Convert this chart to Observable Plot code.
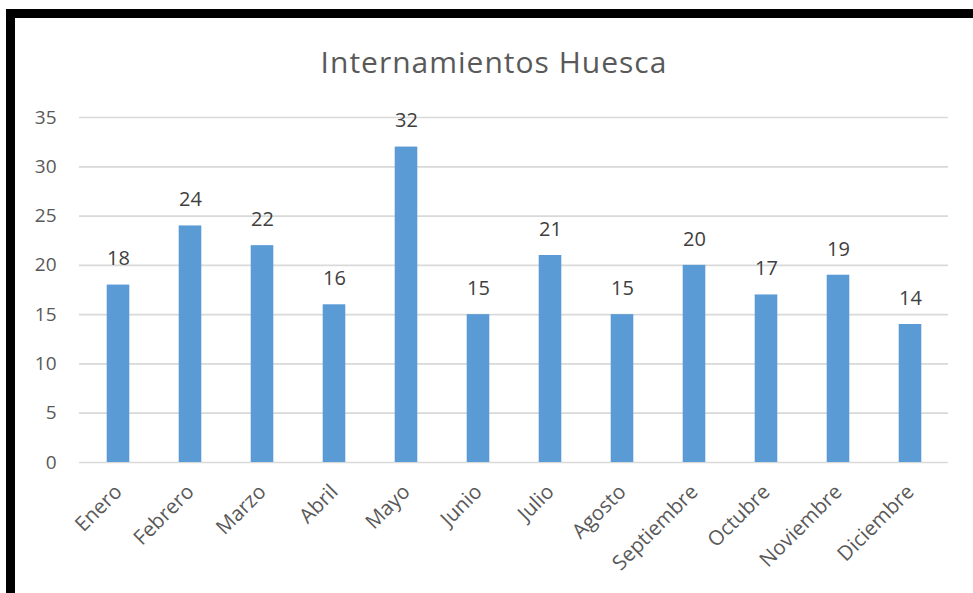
<!DOCTYPE html>
<html>
<head>
<meta charset="utf-8">
<script src="https://cdn.jsdelivr.net/npm/d3@7"></script>
<script src="https://cdn.jsdelivr.net/npm/@observablehq/plot@0.6"></script>
<style>
  html, body { margin: 0; padding: 0; background: #fff; }
  body { width: 973px; height: 593px; position: relative; overflow: hidden; font-family: "Open Sans", sans-serif; }
  #frame { position: absolute; left: 6px; top: 9px; width: 958px; height: 575px;
           border-top: 9px solid #000; border-left: 9px solid #000; background: #fff; }
  #title { height: 72px; box-sizing: border-box; padding-top: 30px; line-height: 28px;
           font-size: 30px; letter-spacing: 1px; color: #595959; text-align: center; }
</style>
</head>
<body>
<div id="frame">
  <div id="title">Internamientos Huesca</div>
  <div id="chart"></div>
</div>
<script>
const months = ["Enero","Febrero","Marzo","Abril","Mayo","Junio","Julio","Agosto","Septiembre","Octubre","Noviembre","Diciembre"];
const values = [18, 24, 22, 16, 32, 15, 21, 15, 20, 17, 19, 14];
const yTicks = [0, 5, 10, 15, 20, 25, 30, 35];

const data = months.map((m, i) => ({month: m, value: values[i]}));

const chart = Plot.plot({
  width: 958,
  height: 503,
  marginLeft: 64,
  marginRight: 25,
  marginTop: 27,
  marginBottom: 131,
  style: {fontFamily: "'Open Sans', sans-serif", color: "#595959", background: "#fff"},
  x: {domain: months, padding: 0, label: null},
  y: {domain: [0, 35], label: null},
  marks: [
    Plot.ruleY(yTicks, {stroke: "#d9d9d9", strokeWidth: 1.7}),
    Plot.barY(data, {x: "month", y: "value", fill: "#5b9bd5", insetLeft: 24.7, insetRight: 24.7}),
    Plot.text(data, {x: "month", y: "value", text: d => String(d.value), dy: -26, fontSize: 20, fill: "#404040"}),
    Plot.axisY({ticks: yTicks, tickSize: 0, tickPadding: 23, fontSize: 19, label: null, tickFormat: d => String(d)}),
    Plot.axisX({tickSize: 0, tickRotate: -45, tickPadding: 26, fontSize: 20.5, label: null})
  ]
});
document.getElementById("chart").appendChild(chart);
</script>
</body>
</html>
